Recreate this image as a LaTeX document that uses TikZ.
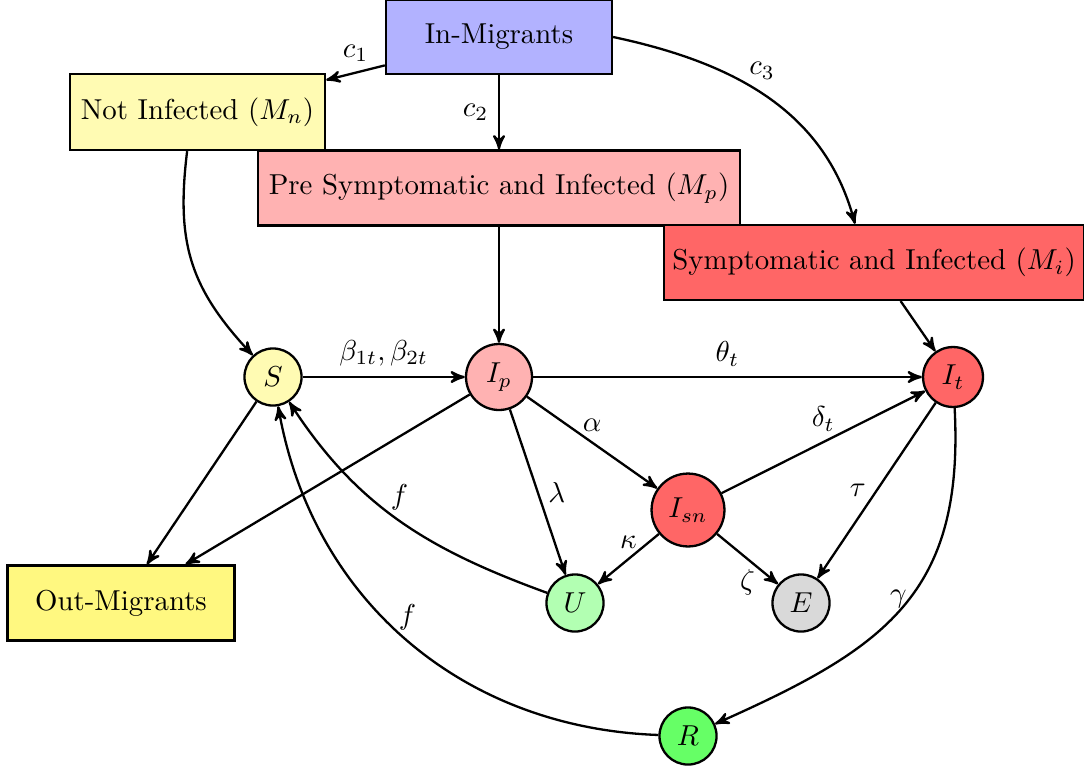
\documentclass[tikz,border=0pt]{standalone}
\usetikzlibrary{arrows}
\begin{document}
\begin{tikzpicture}[x=0.347pt,y=0.347pt,>=stealth',thick,
  box/.style={draw,rectangle,inner sep=2pt,minimum height=26pt},
  st/.style={draw,circle,inner sep=1pt,minimum size=19.8pt}]
\useasboundingbox (0,0) rectangle (1084,769);
% boxes
\node[box,fill=blue!30,minimum width=78.4pt,minimum height=25.7pt] (In) at (499,732) {In-Migrants};
\node[box,fill=yellow!30,minimum width=88.5pt,minimum height=26.4pt] (Mn) at (197.5,657) {Not Infected $(M_n)$};
\node[box,fill=red!30,minimum width=167.3pt] (Mp) at (499,581) {Pre Symptomatic and Infected $(M_p)$};
\node[box,fill=red!60,minimum width=145.7pt] (Mi) at (874,506.5) {Symptomatic and Infected $(M_i)$};
\node[box,fill=yellow!50,minimum width=78.8pt] (Out) at (121,166) {Out-Migrants};
% states
\node[st,fill=yellow!30] (S) at (273,392) {$S$};
\node[st,fill=red!30,minimum size=22.9pt] (Ip) at (499,392) {$I_p$};
\node[st,fill=red!60,minimum size=20.8pt] (It) at (953,392) {$I_t$};
\node[st,fill=red!60,minimum size=25.3pt] (Isn) at (688,259) {$I_{sn}$};
\node[st,fill=green!30] (U) at (575,166) {$U$};
\node[st,fill=gray!30] (E) at (801,166) {$E$};
\node[st,fill=green!60] (R) at (688,33) {$R$};
% connectors
\draw[->] (In) -- node[above]{$c_1$} (Mn);
\draw[->] (In) -- node[left]{$c_2$} (Mp);
\draw[->] (In.east) to[out=-12,in=105] node[pos=0.42,above right,inner sep=1pt]{$c_3$} ([xshift=-6.6pt]Mi.north);
\draw[->] ([xshift=-3.6pt]Mn.south) to[out=-97,in=133,looseness=1.1] (S);
\draw[->] (Mp) -- (Ip);
\draw[->] (Mi) -- (It);
\draw[->] (S) -- node[above]{$\beta_{1t},\beta_{2t}$} (Ip);
\draw[->] (Ip) -- node[above]{$\theta_t$} (It);
\draw[->] (Ip) -- node[above]{$\alpha$} (Isn);
\draw[->] (Ip) -- node[right]{$\lambda$} (U);
\draw[->] (Isn) -- node[above]{$\delta_t$} (It);
\draw[->] (Isn) -- node[above]{$\kappa$} (U);
\draw[->] (Isn) -- node[below]{$\zeta$} (E);
\draw[->] (It) -- node[left]{$\tau$} (E);
\draw[->] (It) to[out=-87,in=24,looseness=1.2] node[pos=0.47,left,inner sep=0.5pt]{$\gamma$} (R);
\draw[->] (U) to[out=160,in=-57] node[pos=0.5,above]{$f$} (S);
\draw[->] (R) to[out=178,in=-80] node[pos=0.5,above]{$f$} (S);
\draw[->] (S) -- (Out);
\draw[->] (Ip) -- (Out);
\end{tikzpicture}
\end{document}
